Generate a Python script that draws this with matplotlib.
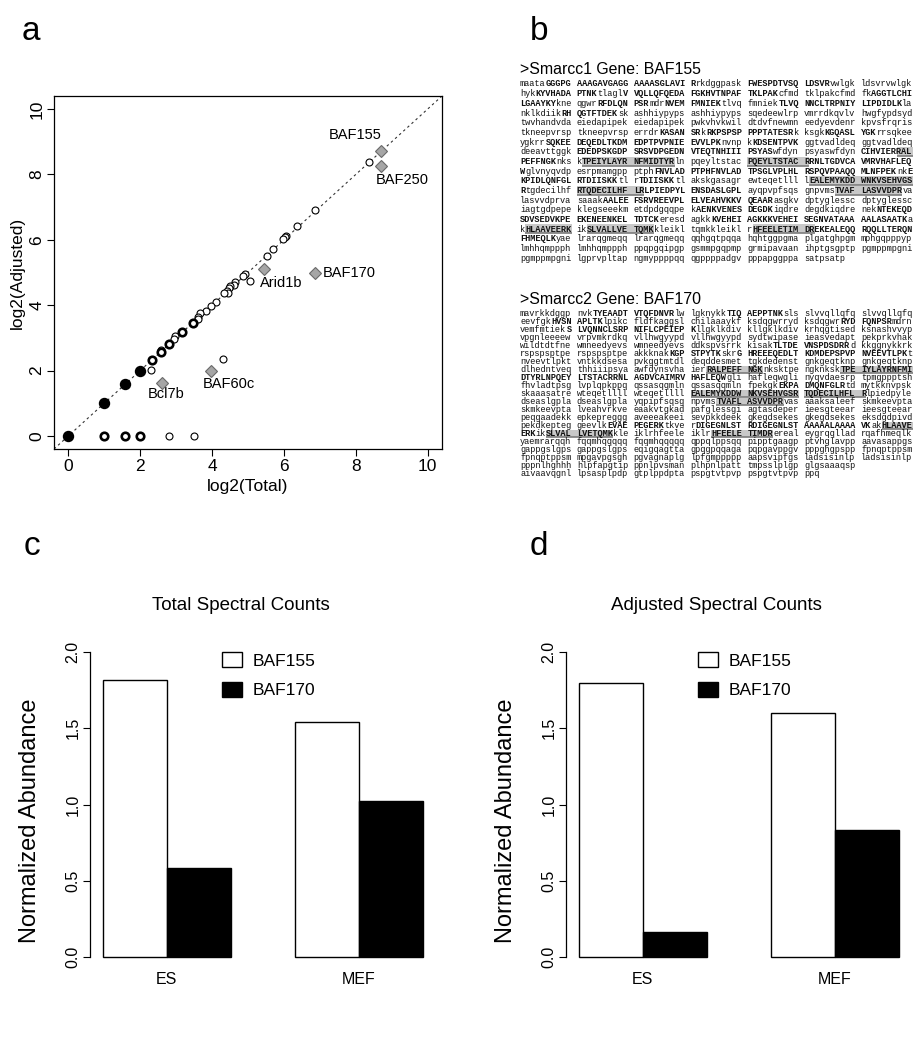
import matplotlib
matplotlib.use('Agg')
import matplotlib.pyplot as plt
from matplotlib.patches import Rectangle, Patch

W, H = 921, 1050
SANS = ['Liberation Sans', 'DejaVu Sans']
MONO = ['Liberation Mono', 'DejaVu Sans Mono']
plt.rcParams['font.family'] = SANS

# ---------------- data: panel a ----------------
single_total = [8.38, 6.87, 6.36, 6.07, 6.04, 5.97, 5.70, 5.53, 5.05, 4.91, 4.86, 4.63, 4.60,
                4.51, 4.46, 4.42, 4.44, 4.32, 4.12, 3.98, 3.83, 3.67, 3.60, 3.61, 2.98, 2.95,
                2.59, 2.31, 4.30, 2.81, 3.50]
single_adjusted = [8.38, 6.92, 6.41, 6.13, 6.09, 6.01, 5.71, 5.51, 4.75, 4.96, 4.88, 4.70, 4.63,
                   4.58, 4.52, 4.43, 4.36, 4.38, 4.11, 3.96, 3.81, 3.75, 3.64, 3.58, 3.07, 2.97,
                   2.64, 2.02, 2.35, 0.00, 0.00]
stacked_total = [3.46, 3.17, 2.81, 2.58, 2.32, 1.00, 1.58, 2.00]
stacked_adjusted = [3.46, 3.17, 2.81, 2.58, 2.32, 0.00, 0.00, 0.00]
dense_total = [0.0, 1.0, 1.58, 2.0]
dense_adjusted = [0.0, 1.0, 1.58, 2.0]
marked_names = ['BAF155', 'BAF250', 'Arid1b', 'BAF170', 'BAF60c', 'Bcl7b']
marked_total = [8.71, 8.70, 5.45, 6.86, 3.97, 2.61]
marked_adjusted = [8.73, 8.27, 5.10, 4.99, 2.00, 1.62]
axis_ticks_a = [0, 2, 4, 6, 8, 10]

# ---------------- data: panel b ----------------
header1 = '>Smarcc1 Gene: BAF155'
smarcc1_lines = [
    'maataGGGPG AAAGAVGAGG AAAASGLAVI Rrkdggpask FWESPDTVSQ LDSVRvwlgk ldsvrvwlgk',
    'hykKYVHADA PTNKtlaglV VQLLQFQEDA FGKHVTNPAF TKLPAKcfmd tklpakcfmd fkAGGTLCHI',
    'LGAAYKYkne qgwrRFDLQN PSRmdrNVEM FMNIEKtlvq fmniekTLVQ NNCLTRPNIY LIPDIDLKla',
    'nklkdiikRH QGTFTDEKsk ashhiypyps ashhiypyps sqedeewlrp vmrrdkqvlv hwgfypdsyd',
    'twvhandvda eiedapipek eiedapipek pwkvhvkwil dtdvfnewmn eedyevdenr kpvsfrqris',
    'tkneepvrsp tkneepvrsp errdrKASAN SRkRKPSPSP PPPTATESRk ksgkKGQASL YGKrrsqkee',
    'ygkrrSQKEE DEQEDLTKDM EDPTPVPNIE EVVLPKnvnp kKDSENTPVK ggtvadldeq ggtvadldeq',
    'deeavttggk EDEDPSKGDP SRSVDPGEDN VTEQTNHIII PSYASwfdyn psyaswfdyn CIHVIER[RAL',
    'PEFFNGK]nks k[TPEIYLAYR NFMIDTYR]ln pqeyltstac [PQEYLTSTAC R]RNLTGDVCA VMRVHAFLEQ',
    'Wglvnyqvdp esrpmamgpp ptphFNVLAD PTPHFNVLAD TPSGLVPLHL RSPQVPAAQQ MLNFPEKnkE',
    'KPIDLQNFGL RTDIISKKtl rTDIISKKtl akskgasagr ewteqetlll l[EALEMYKDD WNKVSEHVGS',
    'R]tgdecilhf [RTQDECILHF LR]LPIEDPYL ENSDASLGPL ayqpvpfsqs gnpvms[TVAF LASVVDPR]va',
    'lasvvdprva saaakAALEE FSRVREEVPL ELVEAHVKKV QEAARasgkv dptyglessc dptyglessc',
    'iagtgdpepe klegseeekm etdpdgqqpe kAENKVENES DEGDKiqdre degdkiqdre nekNTEKEQD',
    'SDVSEDVKPE EKENEENKEL TDTCKeresd agkkKVEHEI AGKKKVEHEI SEGNVATAAA AALASAATKa',
    'k[HLAAVEERK] ik[SLVALLVE TQMK]kleikl tqmkkleikl r[HFEELETIM DR]EKEALEQQ RQQLLTERQN',
    'FHMEQLKyae lrarqgmeqq lrarqgmeqq qqhgqtpqqa hqhtggpgma plgatghpgm mphgqpppyp',
    'lmhhqmppph lmhhqmppph ppqpgqipgp gsmmpgqpmp grmipavaan ihptgsgptp pgmppmpgni',
    'pgmppmpgni lgprvpltap ngmyppppqq qgppppadgv pppapggppa satpsatp',
]
header2 = '>Smarcc2 Gene: BAF170'
smarcc2_lines = [
    'mavrkkdggp nvkTYEAADT VTQFDNVRlw lgknykkTIQ AEPPTNKsls slvvqllqfq slvvqllqfq',
    'eevfgkHVSN APLTKlpikc fldfkaggsl chilaaaykf ksdqgwrryd ksdqgwrRYD FQNPSRmdrn',
    'vemfmtiekS LVQNNCLSRP NIFLCPEIEP Kllgklkdiv kllgklkdiv krhqgtised ksnashvvyp',
    'vpgnleeeew vrpvmkrdkq vllhwgyypd vllhwgyypd sydtwipase ieasvedapt pekprkvhak',
    'wildtdtfne wmneedyevs wmneedyevs ddkspvsrrk kisakTLTDE VNSPDSDRRd kkggnykkrk',
    'rspspsptpe rspspsptpe akkknakKGP STPYTKskrG HREEEQEDLT KDMDEPSPVP NVEEVTLPKt',
    'nveevtlpkt vntkkdsesa pvkggtmtdl deqddesmet tgkdedenst gnkgeqtknp gnkgeqtknp',
    'dlhedntveq thhiiipsya awfdynsvha ier[RALPEFF NGK]nksktpe ngknksk[TPE IYLAYRNFMI',
    'DTYRLNPQEY LTSTACR]RNL AGDVCAIMRV HAFLEQWgli hafleqwgli nyqvdaesrp tpmgppptsh',
    'fhvladtpsg lvplqpkppq qssasqqmln qssasqqmln fpekgkEKPA DMQNFGLRtd mytkknvpsk',
    'skaaasatre wteqetllll wteqetllll [EALEMYKDDW NKVSEHVGSR] [TQDECILHFL R]lpiedpyle',
    'dseaslgpla dseaslgpla yqpipfsqsg npvms[TVAFL ASVVDPR]vas aaaksaleef skmkeevpta',
    'skmkeevpta lveahvrkve eaakvtgkad pafglessgi agtasdeper ieesgteear ieesgteear',
    'peqgaadekk epkepreggg aveeeakeei sevpkkdeek gkegdsekes gkegdsekes eksdgdpivd',
    'pekdkepteg geevlkEVAE PEGERKtkve rDIGEGNLST RDIGEGNLST AAAAALAAAA VKak[HLAAVE',
    'ERK]ik[SLVAL LVETQMK]kle iklrhfeele iklr[HFEELE TIMDR]ereal eygrqqllad rqafhmeqlk',
    'yaemrarqqh fqqmhqqqqq fqqmhqqqqq qppqlppsqq pipptgaagp ptvhglavpp aavasappgs',
    'gappgslgps gappgslgps eqigqagtta gpqgpqqaga pqpgavppgv pppghgpspp fpnqptppsm',
    'fpnqptppsm mpgavpgsgh pgvagnaplg lpfgmppppp aapsvipfgs ladsisinlp ladsisinlp',
    'pppnlhghhh hlpfapgtip ppnlpvsman plhpnlpatt tmpsslplgp glgsaaaqsp',
    'aivaavqgnl lpsasplpdp gtplppdpta pspgtvtpvp pspgtvtpvp ppq',
]

# ---------------- data: panels c, d ----------------
cell_types = ['ES', 'MEF']
bar_series = ['BAF155', 'BAF170']
total_baf155 = [1.82, 1.54]
total_baf170 = [0.58, 1.02]
adjusted_baf155 = [1.80, 1.60]
adjusted_baf170 = [0.16, 0.83]
abundance_ticks = [0.0, 0.5, 1.0, 1.5, 2.0]

# ---------------- figure ----------------
fig = plt.figure(figsize=(W / 100, H / 100), dpi=100)


def rect(l, t, r, b):
    return [l / W, 1 - b / H, (r - l) / W, (b - t) / H]


# ---- panel a ----
ax = fig.add_axes(rect(54, 96, 442, 449))
ax.set_xlim(-0.4, 10.4)
ax.set_ylim(-0.4, 10.4)
ax.plot([-0.4, 10.4], [-0.4, 10.4], color='#333333', lw=0.8, ls=(0, (2.2, 2.8)), zorder=1)
ax.plot(single_total, single_adjusted, 'o', ms=5.0, mfc='white', mec='black', mew=0.8, zorder=3)
ax.plot(stacked_total, stacked_adjusted, 'o', ms=5.4, mfc='white', mec='black', mew=1.9, zorder=3)
ax.plot(dense_total, dense_adjusted, 'o', ms=7.2, mfc='black', mec='black', mew=1.0, zorder=3)
ax.plot(marked_total, marked_adjusted, 'D', ms=6.0, mfc='#a6a6a6', mec='#6a6a6a', mew=0.8, zorder=4)
label_offsets = {'BAF155': (-19, 11, 'center'), 'BAF250': (15, -10, 'center'),
                 'Arid1b': (12, -10, 'center'), 'BAF170': (6, 0, 'left'),
                 'BAF60c': (13, -10, 'center'), 'Bcl7b': (3, -8, 'center')}
for name, xv, yv in zip(marked_names, marked_total, marked_adjusted):
    dx, dy, ha = label_offsets[name]
    ax.annotate(name, (xv, yv), xytext=(dx, dy), textcoords='offset points',
                ha=ha, va='center', fontsize=10.5)
ax.set_xticks(axis_ticks_a)
ax.set_yticks(axis_ticks_a)
ax.set_xticklabels([str(t) for t in axis_ticks_a])
ax.set_yticklabels([str(t) for t in axis_ticks_a], rotation=90, va='center')
ax.tick_params(direction='out', length=5, width=0.8, labelsize=12.5, pad=2)
for s in ax.spines.values():
    s.set_linewidth(0.9)
ax.set_xlabel('log2(Total)', fontsize=12.5)
ax.set_ylabel('log2(Adjusted)', fontsize=12.5)
ax.xaxis.set_label_coords(0.5, -(487 - 449) / 353)
ax.xaxis.label.set_va('center')
ax.yaxis.set_label_coords(-(54 - 17) / 388, 0.5)
ax.yaxis.label.set_va('center')
fig.text(22 / W, 1 - 40 / H, 'a', fontsize=24, ha='left', va='baseline')

# ---- panel b ----
axb = fig.add_axes([0, 0, 1, 1])
axb.set_xlim(0, W)
axb.set_ylim(H, 0)
axb.axis('off')
axb.patch.set_visible(False)

MONO_FS = 6.2
CW = 0.6 * MONO_FS * 100 / 72
X0 = 520


def draw_block(lines, y_first, pitch):
    for r, line in enumerate(lines):
        y = y_first + r * pitch
        chars, hl = [], []
        on = False
        for ch in line:
            if ch == '[':
                on = True
                continue
            if ch == ']':
                on = False
                continue
            chars.append(ch)
            hl.append(on)
        # highlight bands
        i = 0
        while i < len(chars):
            if hl[i]:
                j = i
                while j + 1 < len(chars) and hl[j + 1]:
                    j += 1
                top = y - 0.5 * pitch + 0.2
                axb.add_patch(Rectangle((X0 + i * CW, top), (j - i + 1) * CW, pitch * 0.92,
                                        facecolor='#c8c8c8', edgecolor='none', zorder=1))
                axb.plot([X0 + i * CW, X0 + (j + 1) * CW], [top + pitch * 0.92] * 2,
                         color='#7c7c7c', lw=1.2, solid_capstyle='butt', zorder=1.5)
                i = j + 1
            else:
                i += 1
        # text runs: words split on spaces, bold for upper case
        i = 0
        while i < len(chars):
            if chars[i] == ' ':
                i += 1
                continue
            bold = chars[i].isupper()
            j = i
            while j + 1 < len(chars) and chars[j + 1] != ' ' and chars[j + 1].isupper() == bold:
                j += 1
            seg = ''.join(chars[i:j + 1])
            axb.text(X0 + i * CW, y, seg, family=MONO, fontsize=MONO_FS,
                     fontweight='bold' if bold else 'normal', color='#111111',
                     ha='left', va='center', zorder=2)
            i = j + 1


axb.text(X0, 70, header1, fontsize=11.4, ha='left', va='center')
draw_block(smarcc1_lines, 84, 9.67)
axb.text(X0, 300, header2, fontsize=11.4, ha='left', va='center')
draw_block(smarcc2_lines, 313, 8.05)
fig.text(530 / W, 1 - 40 / H, 'b', fontsize=24, ha='left', va='baseline')


# ---- panels c, d ----
def bar_panel(left, title, v155, v170, letter, letter_x, ylabel_x):
    width_px = 346
    axp = fig.add_axes(rect(left, 640, left + width_px, 969))
    axp.set_xlim(0.8, 6.2)
    axp.set_ylim(-0.08, 2.08)
    pos155 = [1.5 + 3 * g for g in range(len(cell_types))]
    pos170 = [2.5 + 3 * g for g in range(len(cell_types))]
    axp.bar(pos155, v155, width=1.0, color='white', edgecolor='black', linewidth=1.0)
    axp.bar(pos170, v170, width=1.0, color='black', edgecolor='black', linewidth=1.0)
    for s in ['top', 'right', 'bottom']:
        axp.spines[s].set_visible(False)
    axp.spines['left'].set_bounds(0, 2)
    axp.spines['left'].set_linewidth(0.9)
    axp.set_yticks(abundance_ticks)
    axp.set_yticklabels(['%.1f' % t for t in abundance_ticks], rotation=90, va='center')
    axp.tick_params(axis='y', direction='out', length=5, width=0.8, labelsize=11.5, pad=2)
    axp.set_xticks([2 + 3 * g for g in range(len(cell_types))])
    axp.set_xticklabels(cell_types)
    axp.tick_params(axis='x', length=0, labelsize=11.5, pad=2)
    axp.set_ylabel('Normalized Abundance', fontsize=17)
    axp.yaxis.set_label_coords(-(left - ylabel_x) / width_px, 0.45)
    axp.yaxis.label.set_va('center')
    axp.text(0.435, 1 + (640 - 606) / 329, title, transform=axp.transAxes,
             ha='center', va='center', fontsize=13.5)
    handles = [Patch(facecolor='white', edgecolor='black', lw=1.0),
               Patch(facecolor='black', edgecolor='black', lw=1.0)]
    axp.legend(handles, bar_series, loc='upper left', bbox_to_anchor=(0.36, 0.985),
               frameon=False, fontsize=12.5, handlelength=1.2, handleheight=1.0,
               handletextpad=0.6, labelspacing=0.75, borderaxespad=0)
    fig.text(letter_x / W, 1 - 555 / H, letter, fontsize=24, ha='left', va='baseline')


bar_panel(90, 'Total Spectral Counts', total_baf155, total_baf170, 'c', 24, 30)
bar_panel(566, 'Adjusted Spectral Counts', adjusted_baf155, adjusted_baf170, 'd', 530, 506)

fig.savefig('out.png', dpi=100)
